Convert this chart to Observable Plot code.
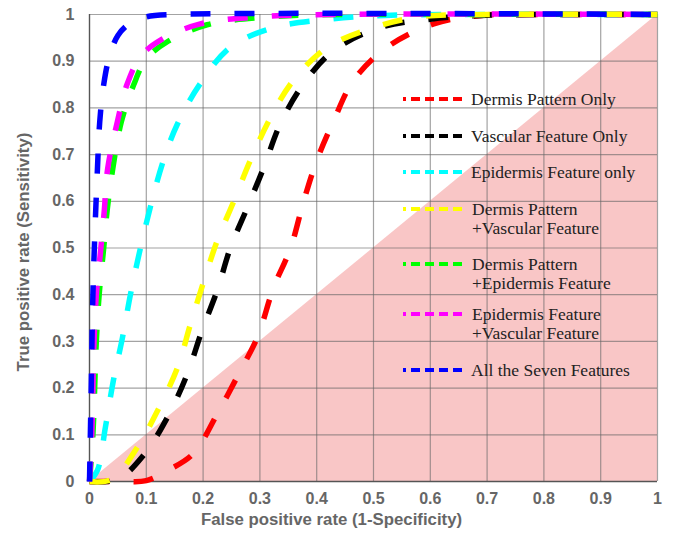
<!DOCTYPE html>
<html>
<head>
<meta charset="utf-8">
<script src="https://cdn.jsdelivr.net/npm/d3@7"></script>
<script src="https://cdn.jsdelivr.net/npm/@observablehq/plot@0.6"></script>
<style>
  html, body { margin: 0; padding: 0; background: #fff; }
</style>
</head>
<body>
<div id="chart"></div>
<script>
const seriesNames = [
  "Dermis Pattern Only",
  "Vascular Feature Only",
  "Epidermis Feature only",
  "Dermis Pattern +Vascular Feature",
  "Dermis Pattern +Epidermis Feature",
  "Epidermis Feature +Vascular Feature",
  "All the Seven Features"
];
const legendLines = [
  ["Dermis Pattern Only"],
  ["Vascular Feature Only"],
  ["Epidermis Feature only"],
  ["Dermis Pattern", "+Vascular Feature"],
  ["Dermis Pattern", "+Epidermis Feature"],
  ["Epidermis Feature", "+Vascular Feature"],
  ["All the Seven Features"]
];
const seriesColors = ["#ff0000", "#000000", "#00ffff", "#ffff00", "#00ff00", "#ff00ff", "#0000ff"];

const redFpr = [0, 0.06, 0.1, 0.14, 0.183, 0.225, 0.266, 0.296, 0.324, 0.354, 0.377, 0.40, 0.43, 0.465, 0.524, 0.606, 0.69, 0.8, 1];
const redTpr = [0, 0, 0.002, 0.025, 0.06, 0.145, 0.238, 0.31, 0.415, 0.50, 0.60, 0.687, 0.773, 0.859, 0.93, 0.98, 0.998, 1, 1];

const blackFpr = [0, 0.05, 0.095, 0.137, 0.172, 0.198, 0.225, 0.248, 0.278, 0.307, 0.336, 0.377, 0.43, 0.512, 0.60, 0.69, 0.8, 1];
const blackTpr = [0, 0.005, 0.056, 0.137, 0.23, 0.323, 0.41, 0.50, 0.587, 0.673, 0.766, 0.852, 0.923, 0.972, 0.99, 0.998, 1, 1];

const cyanFpr = [0, 0.014, 0.028, 0.042, 0.058, 0.072, 0.086, 0.107, 0.13, 0.155, 0.195, 0.248, 0.324, 0.424, 0.52, 0.65, 1];
const cyanTpr = [0, 0.024, 0.116, 0.216, 0.308, 0.40, 0.48, 0.587, 0.687, 0.766, 0.852, 0.93, 0.972, 0.99, 0.998, 1, 1];

const yellowFpr = [0, 0.04, 0.084, 0.12, 0.155, 0.178, 0.20, 0.225, 0.254, 0.283, 0.319, 0.359, 0.419, 0.50, 0.58, 0.7, 1];
const yellowTpr = [0, 0.005, 0.073, 0.152, 0.244, 0.338, 0.424, 0.516, 0.60, 0.687, 0.78, 0.859, 0.93, 0.972, 0.995, 1, 1];

const greenFpr = [0, 0.006, 0.012, 0.017, 0.025, 0.031, 0.041, 0.056, 0.078, 0.1, 0.135, 0.207, 0.32, 0.45, 1];
const greenTpr = [0, 0.1, 0.3, 0.4, 0.5, 0.58, 0.67, 0.77, 0.85, 0.905, 0.94, 0.978, 0.995, 1, 1];

const magentaFpr = [0, 0.004, 0.008, 0.012, 0.02, 0.026, 0.032, 0.049, 0.066, 0.09, 0.125, 0.195, 0.3, 0.42, 1];
const magentaTpr = [0, 0.1, 0.3, 0.4, 0.5, 0.58, 0.67, 0.77, 0.85, 0.91, 0.945, 0.98, 0.995, 1, 1];

const blueFpr = [0, 0.003, 0.006, 0.01, 0.014, 0.018, 0.025, 0.035, 0.05, 0.07, 0.1, 0.15, 1];
const blueTpr = [0, 0.2, 0.4, 0.55, 0.67, 0.77, 0.85, 0.91, 0.955, 0.98, 0.995, 1, 1];

const tickValues = [0, 0.1, 0.2, 0.3, 0.4, 0.5, 0.6, 0.7, 0.8, 0.9, 1];
const diagonal = [{x: 0, y: 0}, {x: 1, y: 1}];
const xLabel = "False positive rate (1-Specificity)";
const yLabel = "True positive rate (Sensitivity)";

const allFpr = [redFpr, blackFpr, cyanFpr, yellowFpr, greenFpr, magentaFpr, blueFpr];
const allTpr = [redTpr, blackTpr, cyanTpr, yellowTpr, greenTpr, magentaTpr, blueTpr];
const rows = [];
seriesNames.forEach((name, i) => {
  allFpr[i].forEach((f, j) => rows.push({series: name, fpr: f, tpr: allTpr[i][j]}));
});

const fmt = d => String(d);

const svg = Plot.plot({
  width: 681,
  height: 540,
  marginLeft: 89,
  marginRight: 24,
  marginTop: 14,
  marginBottom: 59,
  style: {fontFamily: "'Liberation Sans', Arial, sans-serif", fontSize: "16px", color: "#666", background: "#fff", overflow: "visible"},
  x: {domain: [0, 1]},
  y: {domain: [0, 1]},
  color: {domain: seriesNames, range: seriesColors},
  marks: [
    Plot.areaY(diagonal, {x: "x", y: "y", fill: "#f9c6c6"}),
    Plot.gridX(tickValues, {stroke: "#666", strokeOpacity: 0.6, strokeWidth: 1.2}),
    Plot.gridY(tickValues, {stroke: "#666", strokeOpacity: 0.6, strokeWidth: 1.2}),
    Plot.ruleX([0], {stroke: "#555", strokeWidth: 1.3}),
    Plot.ruleY([0], {stroke: "#555", strokeWidth: 1.3}),
    Plot.axisX(tickValues, {tickSize: 0, tickPadding: 11, tickFormat: fmt, label: null, fontWeight: "bold", fontSize: 16}),
    Plot.axisY(tickValues, {tickSize: 0, tickPadding: 15, tickFormat: fmt, label: null, fontWeight: "bold", fontSize: 16}),
    Plot.text([xLabel], {text: d => d, frameAnchor: "bottom", dy: 43, dx: -42, fontSize: 16.8, fill: "#666", fontWeight: "bold"}),
    Plot.text([yLabel], {text: d => d, frameAnchor: "left", textAnchor: "middle", dx: -66, dy: 4, rotate: -90, fontSize: 16.8, fill: "#666", fontWeight: "bold"}),
    Plot.line(rows, {x: "fpr", y: "tpr", z: "series", stroke: "series", strokeWidth: 5.5, strokeDasharray: "20,24", curve: "catmull-rom", strokeLinecap: "butt"})
  ]
});

document.getElementById("chart").appendChild(svg);

// Legend drawn inside the frame
const legendY = [99, 136, 172, 209, 264, 314, 370];
const lg = d3.select(svg).append("g").attr("class", "legend").attr("text-anchor", "start");
legendLines.forEach((lines, i) => {
  const y = legendY[i];
  lg.append("line")
    .attr("x1", 403).attr("x2", 463).attr("y1", y).attr("y2", y)
    .attr("stroke", seriesColors[i]).attr("stroke-width", 4)
    .attr("stroke-dasharray", "3,5,9,5,9,5,9,5,9");
  lines.forEach((t, k) => {
    lg.append("text")
      .attr("x", k === 0 && lines.length === 1 ? 471 : 472)
      .attr("y", y + k * 19)
      .attr("dy", "0.35em")
      .attr("text-anchor", "start")
      .attr("font-family", "'Liberation Serif', 'Times New Roman', serif")
      .attr("font-size", 17.5)
      .attr("fill", "#222")
      .text(t);
  });
});
</script>
</body>
</html>
